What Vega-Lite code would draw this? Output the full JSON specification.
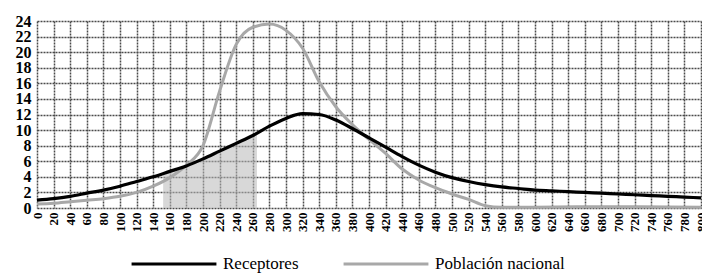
{
  "$schema": "https://vega.github.io/schema/vega-lite/v6.json",
  "width": 664,
  "height": 187,
  "autosize": {"type": "none"},
  "padding": {"left": 37, "top": 21, "right": 1, "bottom": 67},
  "background": "white",
  "config": {
    "view": {"stroke": null},
    "font": "Liberation Serif, Times New Roman, serif",
    "axis": {
      "grid": true,
      "gridColor": "#4a4a4a",
      "gridWidth": 1.5,
      "gridDash": [2, 1],
      "gridOpacity": 1,
      "domain": false,
      "ticks": false,
      "labelFont": "Liberation Serif, Times New Roman, serif",
      "labelColor": "#000000",
      "labelFontWeight": "bold",
      "title": null
    },
    "legend": {
      "labelFont": "Liberation Serif, Times New Roman, serif",
      "labelFontSize": 17,
      "labelColor": "#000000"
    }
  },
  "datasets": {
    "curves": [
      {"x": 0, "v": 1.0, "s": "Receptores"},
      {"x": 20, "v": 1.2, "s": "Receptores"},
      {"x": 40, "v": 1.5, "s": "Receptores"},
      {"x": 60, "v": 1.9, "s": "Receptores"},
      {"x": 80, "v": 2.3, "s": "Receptores"},
      {"x": 100, "v": 2.8, "s": "Receptores"},
      {"x": 120, "v": 3.4, "s": "Receptores"},
      {"x": 140, "v": 4.0, "s": "Receptores"},
      {"x": 160, "v": 4.7, "s": "Receptores"},
      {"x": 180, "v": 5.4, "s": "Receptores"},
      {"x": 200, "v": 6.3, "s": "Receptores"},
      {"x": 220, "v": 7.3, "s": "Receptores"},
      {"x": 240, "v": 8.3, "s": "Receptores"},
      {"x": 260, "v": 9.3, "s": "Receptores"},
      {"x": 280, "v": 10.5, "s": "Receptores"},
      {"x": 300, "v": 11.5, "s": "Receptores"},
      {"x": 320, "v": 12.1, "s": "Receptores"},
      {"x": 340, "v": 12.0, "s": "Receptores"},
      {"x": 360, "v": 11.3, "s": "Receptores"},
      {"x": 380, "v": 10.2, "s": "Receptores"},
      {"x": 400, "v": 9.0, "s": "Receptores"},
      {"x": 420, "v": 7.8, "s": "Receptores"},
      {"x": 440, "v": 6.6, "s": "Receptores"},
      {"x": 460, "v": 5.5, "s": "Receptores"},
      {"x": 480, "v": 4.6, "s": "Receptores"},
      {"x": 500, "v": 3.9, "s": "Receptores"},
      {"x": 520, "v": 3.4, "s": "Receptores"},
      {"x": 540, "v": 3.0, "s": "Receptores"},
      {"x": 560, "v": 2.7, "s": "Receptores"},
      {"x": 580, "v": 2.5, "s": "Receptores"},
      {"x": 600, "v": 2.3, "s": "Receptores"},
      {"x": 620, "v": 2.2, "s": "Receptores"},
      {"x": 640, "v": 2.1, "s": "Receptores"},
      {"x": 660, "v": 2.0, "s": "Receptores"},
      {"x": 680, "v": 1.9, "s": "Receptores"},
      {"x": 700, "v": 1.8, "s": "Receptores"},
      {"x": 720, "v": 1.7, "s": "Receptores"},
      {"x": 740, "v": 1.6, "s": "Receptores"},
      {"x": 760, "v": 1.5, "s": "Receptores"},
      {"x": 780, "v": 1.4, "s": "Receptores"},
      {"x": 800, "v": 1.3, "s": "Receptores"},
      {"x": 0, "v": 0.5, "s": "Población nacional"},
      {"x": 20, "v": 0.6, "s": "Población nacional"},
      {"x": 40, "v": 0.8, "s": "Población nacional"},
      {"x": 60, "v": 1.0, "s": "Población nacional"},
      {"x": 80, "v": 1.2, "s": "Población nacional"},
      {"x": 100, "v": 1.5, "s": "Población nacional"},
      {"x": 120, "v": 2.0, "s": "Población nacional"},
      {"x": 140, "v": 2.8, "s": "Población nacional"},
      {"x": 160, "v": 3.9, "s": "Población nacional"},
      {"x": 180, "v": 5.5, "s": "Población nacional"},
      {"x": 200, "v": 8.0, "s": "Población nacional"},
      {"x": 220, "v": 15.0, "s": "Población nacional"},
      {"x": 240, "v": 21.0, "s": "Población nacional"},
      {"x": 260, "v": 23.2, "s": "Población nacional"},
      {"x": 280, "v": 23.6, "s": "Población nacional"},
      {"x": 300, "v": 22.8, "s": "Población nacional"},
      {"x": 320, "v": 20.5, "s": "Población nacional"},
      {"x": 340, "v": 16.2, "s": "Población nacional"},
      {"x": 360, "v": 13.0, "s": "Población nacional"},
      {"x": 380, "v": 10.7, "s": "Población nacional"},
      {"x": 400, "v": 8.8, "s": "Población nacional"},
      {"x": 420, "v": 7.0, "s": "Población nacional"},
      {"x": 440, "v": 5.0, "s": "Población nacional"},
      {"x": 460, "v": 3.6, "s": "Población nacional"},
      {"x": 480, "v": 2.6, "s": "Población nacional"},
      {"x": 500, "v": 1.8, "s": "Población nacional"},
      {"x": 520, "v": 1.1, "s": "Población nacional"},
      {"x": 540, "v": 0.3, "s": "Población nacional"},
      {"x": 560, "v": 0.1, "s": "Población nacional"},
      {"x": 600, "v": 0.1, "s": "Población nacional"},
      {"x": 650, "v": 0.15, "s": "Población nacional"},
      {"x": 700, "v": 0.15, "s": "Población nacional"},
      {"x": 800, "v": 0.1, "s": "Población nacional"}
    ],
    "shade": [
      {"x": 152, "v": 4.4},
      {"x": 160, "v": 4.7},
      {"x": 180, "v": 5.4},
      {"x": 200, "v": 6.3},
      {"x": 220, "v": 7.3},
      {"x": 240, "v": 8.3},
      {"x": 260, "v": 9.3},
      {"x": 265, "v": 9.6}
    ]
  },
  "encoding": {
    "x": {
      "field": "x", "type": "quantitative",
      "scale": {"domain": [0, 800], "nice": false, "zero": false},
      "axis": {
        "values": [0,20,40,60,80,100,120,140,160,180,200,220,240,260,280,300,320,340,360,380,400,420,440,460,480,500,520,540,560,580,600,620,640,660,680,700,720,740,760,780,800],
        "tickCount": 100,
        "format": "d",
        "labelAngle": 270,
        "labelAlign": "right",
        "labelBaseline": "middle",
        "labelFontSize": 13,
        "labelPadding": 4,
        "labelOverlap": false,
        "labelFlush": false
      }
    },
    "y": {
      "field": "v", "type": "quantitative",
      "scale": {"domain": [0, 24], "nice": false},
      "axis": {
        "values": [0,2,4,6,8,10,12,14,16,18,20,22,24],
        "tickCount": 50,
        "format": "d",
        "labelFontSize": 16,
        "labelPadding": 6,
        "labelOverlap": false,
        "labelFlush": false
      }
    }
  },
  "layer": [
    {
      "data": {"name": "shade"},
      "mark": {"type": "area", "color": "#b8b8b8", "opacity": 0.55, "interpolate": "monotone"}
    },
    {
      "data": {"name": "curves"},
      "transform": [{"filter": "datum.s === 'Población nacional'"}],
      "mark": {"type": "line", "strokeWidth": 3, "interpolate": "monotone"},
      "encoding": {
        "color": {
          "field": "s", "type": "nominal",
          "scale": {"domain": ["Receptores", "Población nacional"], "range": ["#000000", "#a8a8a8"]},
          "legend": {
            "orient": "none",
            "legendX": 93,
            "legendY": 199,
            "direction": "horizontal",
            "title": null,
            "symbolType": "stroke",
            "symbolSize": 7200,
            "symbolStrokeWidth": 3,
            "labelFont": "Liberation Serif, Times New Roman, serif",
            "labelFontSize": 17,
            "labelColor": "#000000",
            "labelOffset": 5,
            "columnPadding": 38
          }
        }
      }
    },
    {
      "data": {"name": "curves"},
      "transform": [{"filter": "datum.s === 'Receptores'"}],
      "mark": {"type": "line", "strokeWidth": 3.2, "interpolate": "monotone"},
      "encoding": {
        "color": {"field": "s", "type": "nominal"}
      }
    }
  ]
}
